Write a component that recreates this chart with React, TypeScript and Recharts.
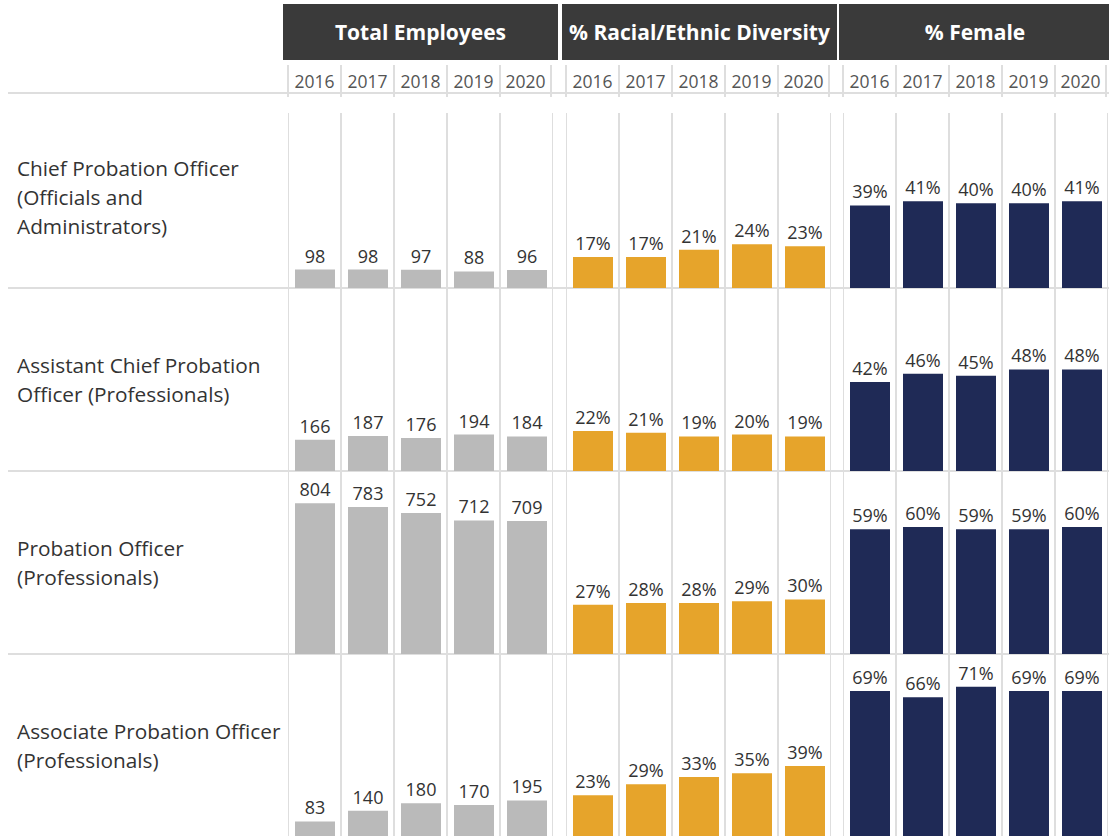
import { BarChart, Bar, XAxis, YAxis, LabelList, ReferenceLine } from 'recharts'

const years = ['2016', '2017', '2018', '2019', '2020']

const roleLabels = [
  ['Chief Probation Officer', '(Officials and', 'Administrators)'],
  ['Assistant Chief Probation', 'Officer (Professionals)'],
  ['Probation Officer', '(Professionals)'],
  ['Associate Probation Officer', '(Professionals)'],
]

const headers = ['Total Employees', '% Racial/Ethnic Diversity', '% Female']

// one list per role, 2016..2020
const totalEmployees = [
  [98, 98, 97, 88, 96],
  [166, 187, 176, 194, 184],
  [804, 783, 752, 712, 709],
  [83, 140, 180, 170, 195],
]
const pctDiversity = [
  [17, 17, 21, 24, 23],
  [22, 21, 19, 20, 19],
  [27, 28, 28, 29, 30],
  [23, 29, 33, 35, 39],
]
const pctFemale = [
  [39, 41, 40, 40, 41],
  [42, 46, 45, 48, 48],
  [59, 60, 59, 59, 60],
  [69, 66, 71, 69, 69],
]

const FONT = "'Open Sans', 'Noto Sans', sans-serif"
const GRID = '#dedede'
const TEXT = '#333'

const panelLeft = [288, 566, 843]
const headerBox = [
  { left: 283, width: 275 },
  { left: 562, width: 275 },
  { left: 839, width: 272 },
]
const rowBottom = [288, 471, 654, 837]
const ROW_H = 182
const PANEL_W = 265

const metrics = [
  { rows: totalEmployees, max: 970, color: '#bababa', fmt: (v: any) => `${v}` },
  { rows: pctDiversity, max: 100, color: '#e6a42b', fmt: (v: any) => `${v}%` },
  { rows: pctFemale, max: 86, color: '#1f2a56', fmt: (v: any) => `${v}%` },
]

function RowChart({ values, max, color, fmt }: { values: number[], max: number, color: string, fmt: (v: any) => string }) {
  const data = years.map((y, i) => ({ year: y, value: values[i] }))
  return (
    <BarChart width={PANEL_W} height={ROW_H} data={data} margin={{ top: 0, right: 0, bottom: 0, left: 0 }}>
      <XAxis dataKey="year" hide />
      <YAxis domain={[0, max]} allowDataOverflow hide />
      {years.map(y => (
        <ReferenceLine key={y} x={y} position="start" stroke={GRID} strokeWidth={2} />
      ))}
      <ReferenceLine x={years[years.length - 1]} position="end" stroke={GRID} strokeWidth={2} />
      <Bar dataKey="value" fill={color} barSize={40} isAnimationActive={false}>
        <LabelList
          dataKey="value"
          position="top"
          offset={7}
          formatter={fmt}
          fill={TEXT}
          fontSize={18}
          fontFamily={FONT}
        />
      </Bar>
    </BarChart>
  )
}

export default function App() {
  return (
    <div style={{ position: 'absolute', left: 0, top: 0, width: 1109, height: 836, overflow: 'hidden', background: '#fff', fontFamily: FONT }}>
      {headers.map((h, i) => (
        <div
          key={h}
          style={{
            position: 'absolute', left: headerBox[i].left, top: 4, width: headerBox[i].width, height: 56,
            background: '#3a3a3a', color: '#fff', fontWeight: 700, fontSize: 21,
            display: 'flex', alignItems: 'center', justifyContent: 'center',
          }}
        >
          {h}
        </div>
      ))}

      {panelLeft.map(x => (
        <div key={x} style={{ position: 'absolute', left: x - 1, top: 65, height: 32, display: 'flex' }}>
          {years.map((y, j) => (
            <div
              key={y}
              style={{
                width: 53, height: 32, boxSizing: 'border-box',
                borderLeft: `2px solid ${GRID}`,
                borderRight: j === years.length - 1 ? `2px solid ${GRID}` : undefined,
                display: 'flex', alignItems: 'center', justifyContent: 'center',
                fontSize: 17.5, color: '#555',
              }}
            >
              {y}
            </div>
          ))}
        </div>
      ))}

      <div style={{ position: 'absolute', left: 8, top: 92, width: 1101, height: 2, background: GRID }} />
      {rowBottom.slice(0, 3).map(b => (
        <div key={b} style={{ position: 'absolute', left: 8, top: b - 1, width: 1101, height: 2, background: GRID }} />
      ))}

      {roleLabels.map((lines, r) => (
        <div
          key={r}
          style={{
            position: 'absolute', left: 17, top: rowBottom[r] - ROW_H, height: ROW_H, width: 270,
            display: 'flex', flexDirection: 'column', justifyContent: 'center',
            fontSize: 20.8, lineHeight: '29px', color: TEXT,
          }}
        >
          {lines.map(l => <div key={l} style={{ whiteSpace: 'nowrap' }}>{l}</div>)}
        </div>
      ))}

      {metrics.map((m, p) =>
        m.rows.map((vals, r) => (
          <div key={`${p}-${r}`} style={{ position: 'absolute', left: panelLeft[p], top: rowBottom[r] - ROW_H }}>
            <RowChart values={vals} max={m.max} color={m.color} fmt={m.fmt} />
          </div>
        ))
      )}

      <div style={{ position: 'absolute', left: 280, top: 97, width: 829, height: 16, background: '#fff' }} />
    </div>
  )
}
